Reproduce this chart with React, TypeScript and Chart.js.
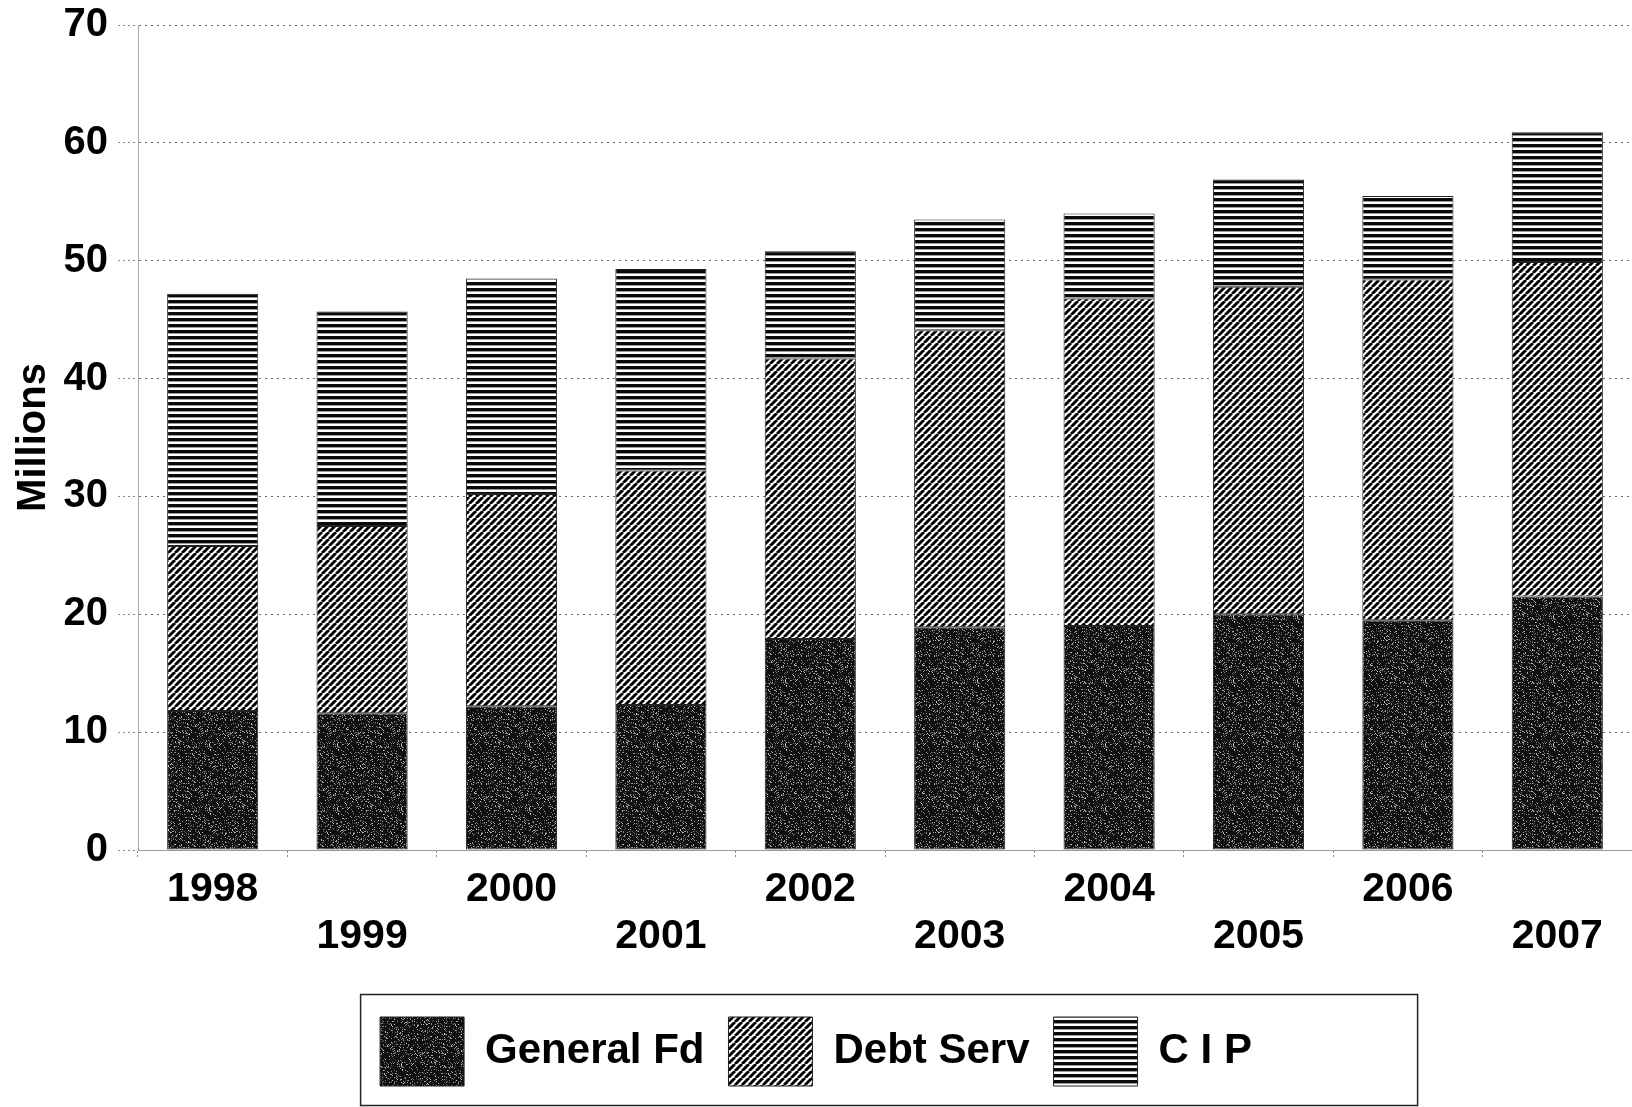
import React, { useEffect, useRef } from "react";
import { Chart, registerables } from "chart.js";

Chart.register(...registerables);

// Fiscal years on the category axis
const years = ["1998", "1999", "2000", "2001", "2002", "2003", "2004", "2005", "2006", "2007"];

// Millions per fund, stacked bottom to top
const generalFd = [11.8, 11.6, 12.2, 12.3, 17.9, 18.9, 19.0, 20.0, 19.5, 21.5];
const debtServ = [14.0, 15.9, 18.0, 19.9, 23.8, 25.2, 27.8, 27.8, 28.9, 28.4];
const cip = [21.4, 18.2, 18.3, 17.1, 9.1, 9.4, 7.2, 9.1, 7.1, 11.0];

const seriesNames = ["General Fd", "Debt Serv", "C I P"];

const yMin = 0;
const yMax = 70;
const yStep = 10;

const FONT = "'Liberation Sans', Arial, Helvetica, sans-serif";

// Deterministic hash used to speckle the dark fill
function hash(n: number): number {
  let x = (n * 374761393) ^ 0x5bd1e995;
  x = (x ^ (x >>> 13)) * 1274126177;
  x = x ^ (x >>> 16);
  return (x >>> 0) / 4294967295;
}

function makeSpeckle(ctx: CanvasRenderingContext2D): CanvasPattern | string {
  const c = document.createElement("canvas");
  c.width = 64;
  c.height = 64;
  const g = c.getContext("2d");
  if (!g) return "#1a1a1a";
  g.fillStyle = "#101010";
  g.fillRect(0, 0, 64, 64);
  for (let i = 0; i < 64 * 64; i++) {
    const r = hash(i + 17);
    if (r < 0.17) {
      const shade = 80 + Math.floor(hash(i * 7 + 3) * 120);
      g.fillStyle = `rgb(${shade},${shade},${shade})`;
      g.fillRect(i % 64, Math.floor(i / 64), 1, 1);
    }
  }
  return ctx.createPattern(c, "repeat") || "#1a1a1a";
}

function makeDiagonal(ctx: CanvasRenderingContext2D): CanvasPattern | string {
  const w = 7;
  const h = 7;
  const c = document.createElement("canvas");
  c.width = w;
  c.height = h;
  const g = c.getContext("2d");
  if (!g) return "#888";
  g.fillStyle = "#ffffff";
  g.fillRect(0, 0, w, h);
  g.strokeStyle = "#000000";
  g.lineWidth = 2.9;
  g.beginPath();
  for (let k = -1; k <= 1; k++) {
    g.moveTo(k * w, h);
    g.lineTo(k * w + w, 0);
  }
  g.stroke();
  return ctx.createPattern(c, "repeat") || "#888";
}

function makeHorizontal(ctx: CanvasRenderingContext2D): CanvasPattern | string {
  const c = document.createElement("canvas");
  c.width = 8;
  c.height = 6;
  const g = c.getContext("2d");
  if (!g) return "#555";
  g.fillStyle = "#ffffff";
  g.fillRect(0, 0, 8, 6);
  g.fillStyle = "#0a0a0a";
  g.fillRect(0, 0, 8, 3);
  g.fillStyle = "#9a9a9a";
  g.fillRect(0, 3, 8, 1);
  return ctx.createPattern(c, "repeat") || "#555";
}

// Frame drawn around the legend row
const legendFrame = {
  id: "legendFrame",
  afterDraw(chart: any) {
    const lg = chart.legend;
    if (!lg || !lg.legendHitBoxes || !lg.legendHitBoxes.length) return;
    const first = lg.legendHitBoxes[0];
    const ctx = chart.ctx;
    const left = first.left - 20;
    const top = lg.top + 1;
    ctx.save();
    ctx.strokeStyle = "#222222";
    ctx.lineWidth = 1.5;
    ctx.strokeRect(left + 0.5, top + 0.5, 1057, chart.height - 2 - top);
    ctx.restore();
  },
};

export default function App() {
  const canvasRef = useRef<HTMLCanvasElement | null>(null);

  useEffect(() => {
    const canvas = canvasRef.current;
    if (!canvas) return;
    const ctx = canvas.getContext("2d");
    if (!ctx) return;

    Chart.defaults.font.family = FONT;
    Chart.defaults.color = "#000000";

    const fills = [makeSpeckle(ctx), makeDiagonal(ctx), makeHorizontal(ctx)];
    const values = [generalFd, debtServ, cip];

    const chart = new Chart(ctx, {
      type: "bar",
      data: {
        labels: years,
        datasets: values.map((v, i) => ({
          label: seriesNames[i],
          data: v,
          backgroundColor: fills[i] as any,
          borderColor: "#222222",
          borderWidth: 1,
          borderSkipped: false,
          categoryPercentage: 0.61,
          barPercentage: 1,
        })),
      },
      options: {
        responsive: false,
        animation: false,
        layout: { padding: { top: 25, left: 0, right: 0, bottom: 11 } },
        plugins: {
          legend: {
            position: "bottom",
            labels: {
              boxWidth: 84,
              boxHeight: 69,
              padding: 24,
              color: "#000000",
              font: { family: FONT, size: 42, weight: "bold" },
            },
          },
          tooltip: { enabled: false },
        },
        scales: {
          x: {
            stacked: true,
            offset: true,
            grid: {
              offset: true,
              drawOnChartArea: false,
              drawTicks: true,
              tickLength: 8,
              tickColor: "#888888",
              tickBorderDash: [2, 2],
            },
            border: { display: true, color: "#9a9a9a", width: 1 },
            ticks: {
              autoSkip: false,
              maxRotation: 0,
              minRotation: 0,
              padding: 8,
              color: "#000000",
              font: { family: FONT, size: 41, weight: "bold", lineHeight: 1.15 },
              callback: function (this: any, _val: any, index: number) {
                const lab = years[index];
                return index % 2 === 1 ? ["", lab] : lab;
              },
            },
            afterFit: (scale: any) => {
              scale.height = 143;
            },
          },
          y: {
            stacked: true,
            min: yMin,
            max: yMax,
            ticks: {
              stepSize: yStep,
              padding: 10,
              color: "#000000",
              font: { family: FONT, size: 40, weight: "bold" },
            },
            grid: {
              color: "#6a6a6a",
              lineWidth: 1,
              drawTicks: true,
              tickLength: 20,
              tickColor: "#888888",
              tickBorderDash: [2, 3],
            },
            border: { display: true, color: "#a8a8a8", width: 1, dash: [2, 4] },
            title: {
              display: true,
              text: "Millions",
              color: "#000000",
              padding: { top: 10, bottom: 0 },
              font: { family: FONT, size: 40, weight: "bold", lineHeight: 1.2 },
            },
            afterFit: (scale: any) => {
              scale.width = 138;
              scale.paddingTop = 20;
            },
          },
        },
      },
      plugins: [legendFrame],
    });

    return () => {
      chart.destroy();
    };
  }, []);

  return (
    <div
      style={{
        position: "absolute",
        left: 0,
        top: 0,
        width: 1632,
        height: 1107,
        background: "#ffffff",
        overflow: "hidden",
      }}
    >
      <canvas ref={canvasRef} width={1632} height={1107} style={{ display: "block" }} />
    </div>
  );
}
